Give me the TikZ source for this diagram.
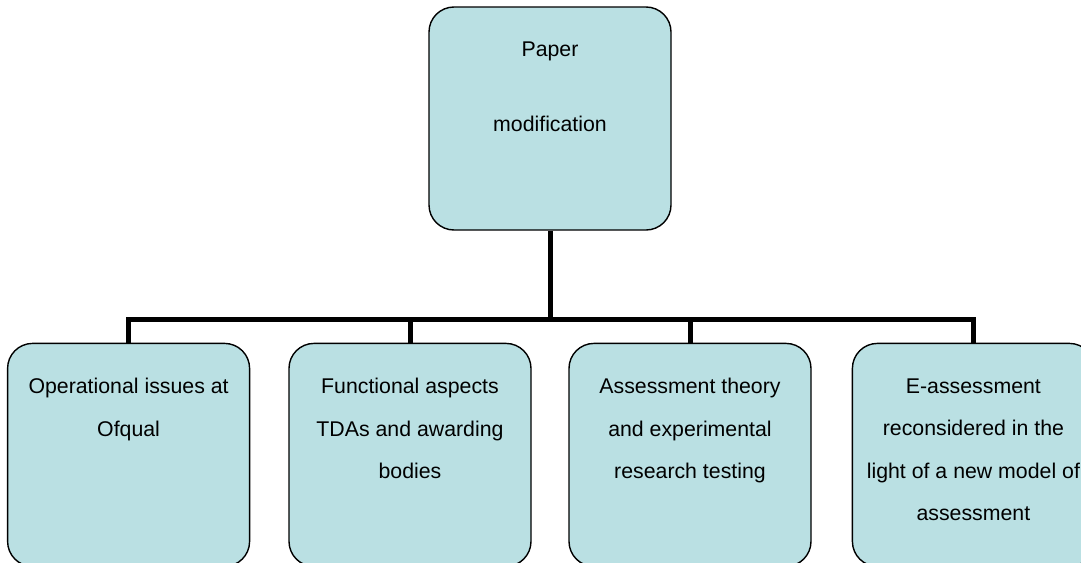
\documentclass[tikz,border=0pt]{standalone}
\usepackage{fontspec}
\setmainfont{Liberation Sans}
\usetikzlibrary{positioning,calc}
\definecolor{PaleTeal}{RGB}{186,224,227}

\begin{document}
\begin{tikzpicture}[
  x=1pt, y=-1pt,
  box/.style={
    draw=black,
    line width=1.4pt,
    fill=PaleTeal,
    rounded corners=25pt,
    inner xsep=3pt,
    inner ysep=0pt,
    minimum width=242pt,
    minimum height=223pt,
    font=\fontsize{21.3}{42.5}\selectfont,
    execute at begin node={\begin{minipage}[t][223pt][t]{236pt}\centering\vspace*{35pt}},
    execute at end node={\end{minipage}}
  },
  link/.style={line width=5pt, color=black}
]
\clip (0,0) rectangle (1081,562);

\node[box] (top) at (550,118.5) {Paper\\[32.5pt]modification};

\node[box,below=112pt of top,xshift=-140pt] (func) {Functional aspects\\TDAs and awarding\\bodies};
\node[box,below=112pt of top,xshift=140pt] (theory) {Assessment theory\\and experimental\\research testing};
\node[box,left=38pt of func] (ops) {Operational issues at\\Ofqual};
\node[box,right=40pt of theory] (eas) {E-assessment\\reconsidered in the\\light of a new model of\\assessment};

\coordinate (bus) at ($(top.south)+(0,89)$);

\draw[link] (top.south) -- (bus);
\draw[link] (ops.north) |- (bus) -| (eas.north);
\draw[link] (bus -| func.north) -- (func.north);
\draw[link] (bus -| theory.north) -- (theory.north);
\end{tikzpicture}
\end{document}
